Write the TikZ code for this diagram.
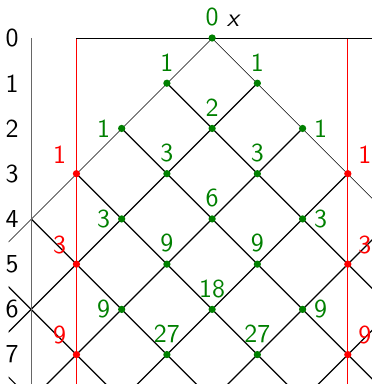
\documentclass[tikz,border=0pt]{standalone}
\usetikzlibrary{positioning}
\definecolor{darkgreen}{rgb}{0,0.5,0}

\begin{document}
\begin{tikzpicture}[
    font=\sffamily,
    every node/.append style={scale=1.63},
    every label/.style={inner sep=2.7pt},
    grid/.style={black, line width=0.75pt},
    wall/.style={red, line width=0.8pt},
    axis/.style={black!60, line width=0.8pt},
    gdot/.style={circle, fill=darkgreen, inner sep=0pt, minimum size=2.8pt},
    rdot/.style={circle, fill=red, inner sep=0pt, minimum size=2.8pt}
  ]
    \useasboundingbox (-4.69,0.84) rectangle (3.52,-7.65);
    % light cone lattice
    \begin{scope}
      \clip (0,0) -- (-4.5,-4.5) -- (-4.5,-8) -- (4.5,-8) -- (4.5,-4.5) -- cycle;
      \foreach \c in {-16,-14,...,16} {
        \draw[grid] (\c-10,-10) -- (\c+10,10);
        \draw[grid] (\c-10,10) -- (\c+10,-10);
      }
    \end{scope}
    \draw[wall] (-3,0) -- (-3,-7.7);
    \draw[wall] (3,0) -- (3,-7.7);
    \draw[black, line width=0.55pt] (-3,0) -- (4.5,0);
    \draw[axis] (-4,0) -- (-4,-7.7);
    \foreach \t in {0,...,7}
      \node (row\t) at (-4.42,-\t) {\t};
    \foreach \x/\t/\v/\p in {0/0/0/above, -1/1/1/above, 1/1/1/above, -2/2/1/left, 0/2/2/above, 2/2/1/right,
        -1/3/3/above, 1/3/3/above, -2/4/3/left, 0/4/6/above, 2/4/3/right, -1/5/9/above, 1/5/9/above,
        -2/6/9/left, 0/6/18/above, 2/6/9/right, -1/7/27/above, 1/7/27/above}
      \node[gdot, label={[text=darkgreen]\p:\v}] (g\x-\t) at (\x,-\t) {};
    \foreach \x/\t/\v/\p in {-3/3/1/above left, 3/3/1/above right, -3/5/3/above left, 3/5/3/above right,
        -3/7/9/above left, 3/7/9/above right}
      \node[rdot, label={[text=red]\p:\v}] (r\x-\t) at (\x,-\t) {};
    \node (xlab) at (0.46,0.375) {\slshape x};
  \end{tikzpicture}
\end{document}
